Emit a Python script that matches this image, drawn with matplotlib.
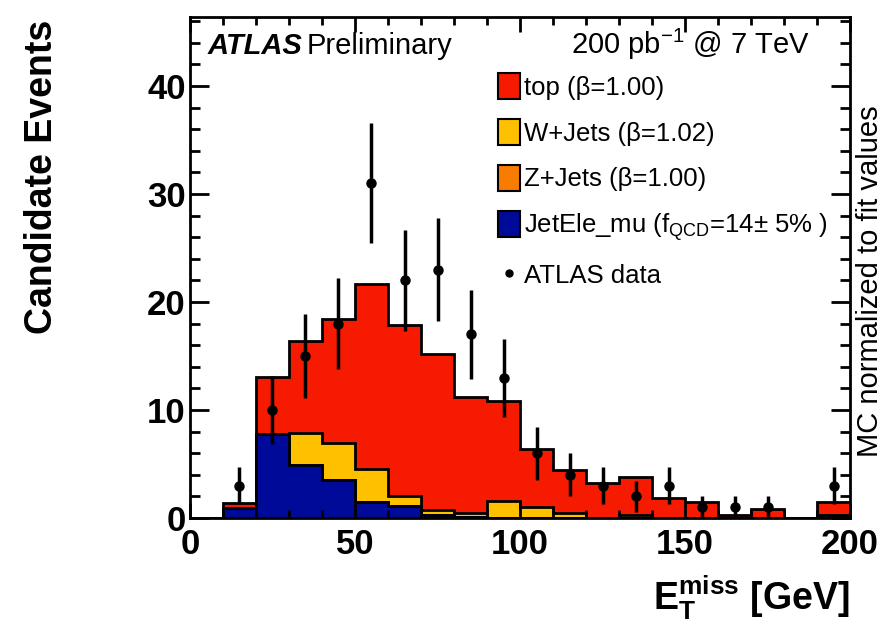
import matplotlib.pyplot as plt, numpy as np
from matplotlib.patches import Patch
from matplotlib.lines import Line2D
from matplotlib.ticker import MultipleLocator

plt.rcParams['font.family'] = ['Liberation Sans', 'DejaVu Sans']
plt.rcParams['mathtext.fontset'] = 'custom'
plt.rcParams['mathtext.rm'] = 'Liberation Sans'
plt.rcParams['mathtext.it'] = 'Liberation Sans:italic'
plt.rcParams['mathtext.bf'] = 'Liberation Sans:bold'

# 10 GeV bins, 0 - 200 GeV
edges = np.arange(0, 210, 10)
data = [0, 3, 10, 15, 18, 31, 22, 23, 17, 13, 6, 4, 3, 2, 3, 1, 1, 1, 0, 3]
jetele = [0, 0.9, 7.8, 4.9, 3.5, 1.5, 1.1, 0.3, 0.05, 0, 0, 0, 0, 0, 0, 0, 0, 0, 0, 0.15]
zjets = [0, 0, 0, 0, 0, 0, 0, 0, 0, 0, 0, 0, 0, 0, 0, 0, 0, 0, 0, 0.1]
wjets = [0, 0, 0, 3.0, 3.4, 3.0, 0.9, 0.4, 0.45, 1.6, 1.0, 0.45, 0, 0.3, 0, 0, 0, 0, 0, 0]
top = [0, 0.5, 5.3, 8.5, 11.5, 17.2, 15.9, 14.5, 10.7, 9.2, 5.4, 3.95, 3.2, 3.5, 1.85, 1.5, 0.3, 0.8, 0, 1.25]

labels = ['JetEle_mu (f$_{\\rm QCD}$=14\u00b1 5% )', 'Z+Jets (\u03b2=1.00)',
          'W+Jets (\u03b2=1.02)', 'top (\u03b2=1.00)']
colors = ['#000a99', '#f77c00', '#ffc000', '#f51a00']

fig = plt.figure(figsize=(8.87, 6.21), dpi=100)
ax = fig.add_axes([0.2142, 0.1659, 0.7441, 0.8068])

# stacked MC, drawn ROOT-style: cumulative totals from the largest down
cum = np.cumsum([jetele, zjets, wjets, top], axis=0)
for i in reversed(range(4)):
    ax.stairs(cum[i], edges, baseline=0, fill=True, facecolor=colors[i],
              edgecolor='black', lw=2)

d = np.array(data, dtype=float)
centers = (edges[:-1] + edges[1:]) / 2
m = d > 0                                                       # empty bins not drawn
ax.errorbar(centers[m], d[m], yerr=np.sqrt(d[m]), fmt='o', color='black',
            ms=6.5, elinewidth=2.5, capsize=0, zorder=5)

ax.set_xlim(0, 200)
ax.set_ylim(0, 46.4)
ax.xaxis.set_major_locator(MultipleLocator(50))
ax.xaxis.set_minor_locator(MultipleLocator(10))
ax.yaxis.set_major_locator(MultipleLocator(10))
ax.yaxis.set_minor_locator(MultipleLocator(2))
ax.tick_params(which='both', direction='in', top=True, right=True, width=2)
ax.tick_params(axis='x', which='major', length=11, labelsize=25, pad=7)
ax.tick_params(axis='x', which='minor', length=5.5)
ax.tick_params(axis='y', which='major', length=14, labelsize=25, pad=3)
ax.tick_params(axis='y', which='minor', length=7)
plt.setp(ax.get_xticklabels() + ax.get_yticklabels(), fontweight='bold')
for s in ax.spines.values():
    s.set_linewidth(2)

fig.text(42 / 887, 1 - 20 / 621, 'Candidate Events', rotation=90, ha='center', va='top',
         fontsize=27, fontweight='bold')
fig.text(850 / 887, 1 - 610 / 621, 'E$_{\\mathbf{T}}^{\\mathbf{miss}}$ [GeV]', ha='right',
         va='baseline', fontsize=27, fontweight='bold')
fig.text(878 / 887, 1 - 281 / 621, 'MC normalized to fit values', rotation=90,
         rotation_mode='anchor', ha='center', va='baseline', fontsize=21)

atl = ax.text(0.027, 0.926, 'ATLAS', transform=ax.transAxes, fontsize=21,
              fontweight='bold', fontstyle='italic', va='baseline')
ax.annotate('Preliminary', xy=(1, 0), xycoords=atl, xytext=(3, 0),
            textcoords='offset points', fontsize=21, va='bottom')
ax.text(0.939, 0.926, '200 pb$^{-1}$ @ 7 TeV', transform=ax.transAxes, fontsize=21,
        ha='right', va='baseline')

handles = [Patch(facecolor=colors[i], edgecolor='black', lw=1.5) for i in (3, 2, 1, 0)]
handles.append(Line2D([], [], marker='o', color='black', ls='none', ms=5))
ax.legend(handles, [labels[i] for i in (3, 2, 1, 0)] + ['ATLAS data'],
          loc='upper left', bbox_to_anchor=(0.467, 0.888), frameon=False,
          fontsize=18.5, handlelength=0.86, handleheight=1.17, handletextpad=0.15,
          labelspacing=0.75, borderpad=0, borderaxespad=0)

plt.savefig('out.png')
